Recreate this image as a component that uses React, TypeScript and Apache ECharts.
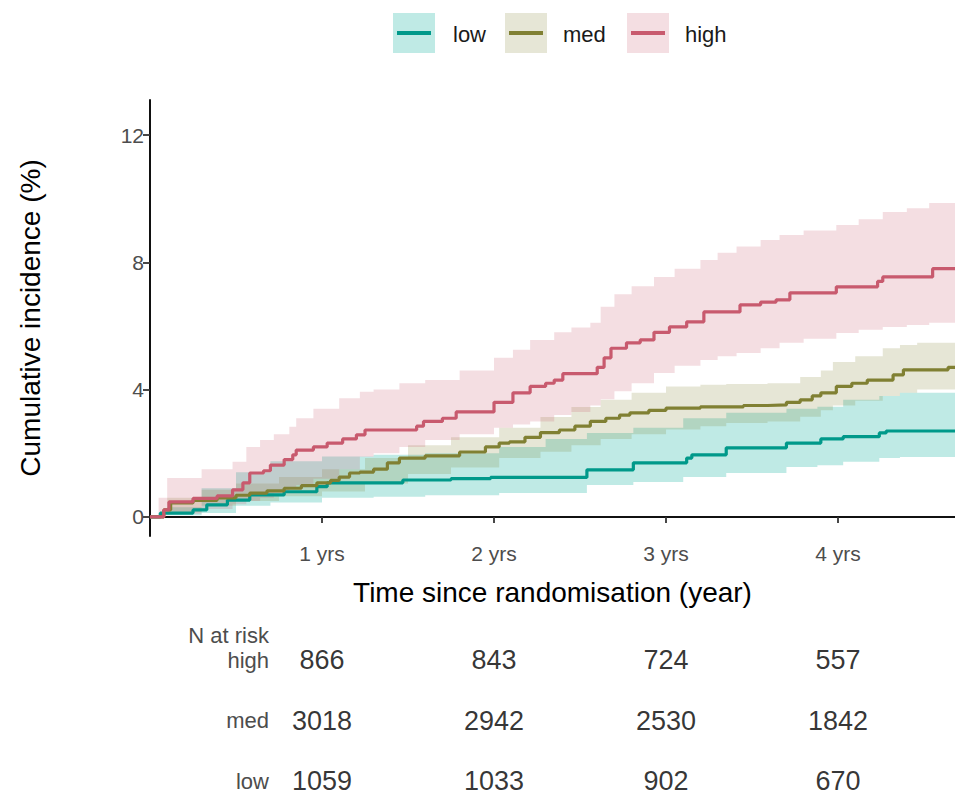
import React, { useEffect, useRef } from "react";
import * as echarts from "echarts";

// ---- data ----
const groups = ["low", "med", "high"];

// step estimate lines: [time (years), cumulative incidence (%)]
const lowLine: number[][] = [
  [0, 0], [0.06, 0.12], [0.25, 0.22], [0.33, 0.38], [0.45, 0.53], [0.58, 0.69],
  [0.78, 0.79], [0.97, 0.95], [1.03, 1.07], [1.47, 1.16], [1.75, 1.2], [1.98, 1.24],
  [2.54, 1.48], [2.81, 1.7], [3.12, 1.85], [3.15, 1.95], [3.35, 2.17], [3.7, 2.32],
  [3.9, 2.45], [4.03, 2.52], [4.24, 2.64], [4.28, 2.7], [4.68, 2.7],
];
const medLine: number[][] = [
  [0, 0], [0.08, 0.22], [0.12, 0.44], [0.25, 0.52], [0.39, 0.6], [0.5, 0.68],
  [0.58, 0.75], [0.68, 0.82], [0.78, 0.9], [0.88, 0.98], [0.97, 1.07], [1.05, 1.15],
  [1.1, 1.25], [1.16, 1.38], [1.22, 1.41], [1.3, 1.5], [1.38, 1.7], [1.45, 1.85],
  [1.6, 1.92], [1.8, 2.04], [1.95, 2.2], [2.03, 2.32], [2.09, 2.36], [2.18, 2.5],
  [2.27, 2.65], [2.38, 2.73], [2.47, 2.85], [2.56, 3.0], [2.65, 3.1], [2.73, 3.2],
  [2.79, 3.27], [2.9, 3.35], [3.0, 3.42], [3.2, 3.46], [3.45, 3.5], [3.59, 3.52],
  [3.7, 3.6], [3.78, 3.68], [3.85, 3.8], [3.9, 3.9], [3.99, 4.1], [4.08, 4.2],
  [4.17, 4.3], [4.32, 4.46], [4.38, 4.62], [4.64, 4.7], [4.68, 4.7],
];
const highLine: number[][] = [
  [0, 0], [0.08, 0.22], [0.11, 0.47], [0.25, 0.58], [0.39, 0.66], [0.48, 0.85],
  [0.54, 1.07], [0.58, 1.38], [0.66, 1.45], [0.7, 1.63], [0.78, 1.8], [0.83, 1.95],
  [0.85, 2.1], [0.95, 2.2], [1.03, 2.32], [1.12, 2.45], [1.2, 2.58], [1.25, 2.73],
  [1.55, 2.85], [1.59, 3.0], [1.7, 3.1], [1.78, 3.3], [2.0, 3.6], [2.11, 3.9],
  [2.21, 4.1], [2.3, 4.2], [2.35, 4.3], [2.4, 4.5], [2.6, 4.7], [2.64, 5.0],
  [2.68, 5.3], [2.77, 5.47], [2.85, 5.56], [2.93, 5.8], [3.02, 5.97], [3.12, 6.13],
  [3.22, 6.44], [3.43, 6.66], [3.55, 6.75], [3.64, 6.82], [3.72, 7.04], [3.99, 7.23],
  [4.23, 7.4], [4.26, 7.54], [4.55, 7.8], [4.68, 7.8],
];

// confidence bands: [time, lower, upper]
const lowBand: number[][] = [
  [0, 0, 0], [0.1, 0.05, 0.3], [0.3, 0.12, 0.9], [0.5, 0.35, 1.4], [0.7, 0.45, 1.75],
  [1.0, 0.6, 1.9], [1.3, 0.63, 1.95], [1.6, 0.68, 2.0], [2.03, 0.75, 2.2],
  [2.3, 0.75, 2.45], [2.54, 1.0, 2.64], [2.81, 1.1, 2.8], [3.1, 1.25, 3.1],
  [3.35, 1.38, 3.27], [3.7, 1.57, 3.4], [3.88, 1.62, 3.46], [4.03, 1.73, 3.68],
  [4.24, 1.85, 3.8], [4.36, 1.88, 3.9], [4.68, 1.9, 3.9],
];
const medBand: number[][] = [
  [0, 0, 0], [0.1, 0.15, 0.6], [0.3, 0.35, 0.85], [0.5, 0.5, 1.05], [0.75, 0.65, 1.25],
  [1.0, 0.8, 1.5], [1.25, 1.05, 1.85], [1.5, 1.35, 2.25], [1.75, 1.55, 2.5],
  [2.03, 1.85, 2.8], [2.27, 2.05, 3.14], [2.45, 2.25, 3.45], [2.62, 2.45, 3.68],
  [2.8, 2.6, 3.9], [3.0, 2.75, 4.1], [3.2, 2.85, 4.15], [3.35, 2.95, 4.18],
  [3.59, 3.0, 4.2], [3.78, 3.15, 4.4], [3.9, 3.35, 4.6], [3.97, 3.5, 4.87],
  [4.1, 3.65, 5.05], [4.26, 3.8, 5.3], [4.36, 3.9, 5.4], [4.46, 4.0, 5.47],
  [4.68, 4.05, 5.56],
];
const highBand: number[][] = [
  [0, 0, 0], [0.05, 0.05, 0.6], [0.1, 0.1, 1.22], [0.3, 0.25, 1.5], [0.48, 0.4, 1.73],
  [0.56, 0.5, 2.2], [0.64, 0.6, 2.42], [0.72, 0.75, 2.6], [0.81, 0.9, 2.83],
  [0.85, 1.0, 3.1], [0.95, 1.2, 3.4], [1.1, 1.5, 3.73], [1.22, 1.89, 3.93],
  [1.3, 2.0, 4.0], [1.45, 2.2, 4.2], [1.6, 2.42, 4.3], [1.8, 2.6, 4.6], [2.0, 2.8, 5.0],
  [2.11, 2.9, 5.25], [2.21, 3.0, 5.56], [2.35, 3.2, 5.8], [2.45, 3.3, 5.95],
  [2.56, 3.5, 6.1], [2.62, 3.7, 6.6], [2.7, 3.95, 7.0], [2.8, 4.2, 7.25],
  [2.93, 4.52, 7.54], [3.05, 4.75, 7.8], [3.2, 4.93, 8.07], [3.3, 5.05, 8.3],
  [3.41, 5.15, 8.5], [3.55, 5.3, 8.7], [3.66, 5.47, 8.86], [3.8, 5.6, 9.0],
  [3.99, 5.78, 9.17], [4.12, 5.88, 9.35], [4.26, 5.97, 9.58], [4.4, 6.03, 9.7],
  [4.53, 6.1, 9.86], [4.68, 6.1, 9.86],
];

// ticks
const yTicks = [0, 4, 8, 12];
const xTicks = [1, 2, 3, 4];

// numbers at risk at 1..4 years
const riskTimes = [1, 2, 3, 4];
const riskHigh = [866, 843, 724, 557];
const riskMed = [3018, 2942, 2530, 1842];
const riskLow = [1059, 1033, 902, 670];

// ---- styles ----
const lineColors: Record<string, string> = {
  low: "#00998A",
  med: "#808033",
  high: "#C85A6E",
};
const bandColors: Record<string, string> = {
  low: "rgba(0,170,150,0.25)",
  med: "rgba(128,128,48,0.2)",
  high: "rgba(200,90,110,0.2)",
};
const FONT = "Liberation Sans, Arial, Helvetica, sans-serif";

function bandSeries(name: string, band: number[][]) {
  return {
    type: "custom",
    name: name + " band",
    xAxisIndex: 0,
    yAxisIndex: 0,
    clip: true,
    z: 1,
    data: band,
    encode: { x: 0, y: [1, 2] },
    renderItem: (params: any, api: any) => {
      if (params.dataIndex !== 0) return null;
      const pts: number[][] = [];
      for (let i = 0; i < band.length; i++) {
        pts.push(api.coord([band[i][0], band[i][2]]));
        if (i < band.length - 1) pts.push(api.coord([band[i + 1][0], band[i][2]]));
      }
      for (let i = band.length - 1; i >= 0; i--) {
        if (i < band.length - 1) pts.push(api.coord([band[i + 1][0], band[i][1]]));
        pts.push(api.coord([band[i][0], band[i][1]]));
      }
      return {
        type: "polygon",
        shape: { points: pts },
        style: { fill: bandColors[name], stroke: "none" },
      };
    },
  };
}

function lineSeries(name: string, data: number[][]) {
  return {
    type: "line",
    name,
    xAxisIndex: 0,
    yAxisIndex: 0,
    step: "end",
    showSymbol: false,
    symbol: "none",
    z: 3,
    data,
    lineStyle: { color: lineColors[name], width: 3.2 },
    itemStyle: { color: lineColors[name] },
  };
}

function riskSeries(group: string, values: number[]) {
  return {
    type: "scatter",
    xAxisIndex: 1,
    yAxisIndex: 1,
    symbolSize: 1,
    itemStyle: { color: "rgba(0,0,0,0)" },
    data: riskTimes.map((t, i) => [t, group, values[i]]),
    label: {
      show: true,
      position: "inside",
      formatter: (p: any) => String(p.value[2]),
      fontSize: 27,
      color: "#000",
      fontFamily: FONT,
    },
  };
}

function legendGraphics() {
  const items = [
    { g: "low", box: 393, text: 453 },
    { g: "med", box: 505, text: 563 },
    { g: "high", box: 627, text: 685 },
  ];
  const out: any[] = [];
  items.forEach((it) => {
    out.push({
      type: "rect",
      shape: { x: it.box, y: 13, width: 42, height: 40 },
      style: { fill: bandColors[it.g] },
    });
    out.push({
      type: "line",
      shape: { x1: it.box + 4, y1: 33, x2: it.box + 38, y2: 33 },
      style: { stroke: lineColors[it.g], lineWidth: 4 },
    });
    out.push({
      type: "text",
      x: it.text,
      y: 34,
      style: {
        text: it.g,
        fontSize: 22,
        fontFamily: FONT,
        fill: "#1a1a1a",
        verticalAlign: "middle",
      },
    });
  });
  out.push({
    type: "text",
    x: 269,
    y: 635,
    style: {
      text: "N at risk",
      fontSize: 22,
      fontFamily: FONT,
      fill: "#4D4D4D",
      align: "right",
      verticalAlign: "middle",
    },
  });
  return out;
}

export default function App() {
  const ref = useRef<HTMLDivElement>(null);

  useEffect(() => {
    if (!ref.current) return;
    const chart = echarts.init(ref.current, undefined, { renderer: "svg" });
    const option: any = {
      animation: false,
      backgroundColor: "#fff",
      textStyle: { fontFamily: FONT },
      grid: [
        { left: 150, right: 0, top: 100, bottom: 260, containLabel: false },
        { left: 150, right: 0, top: 660, height: 121, containLabel: false },
      ],
      xAxis: [
        {
          type: "value",
          gridIndex: 0,
          min: 0,
          max: 4.68,
          splitLine: { show: false },
          axisLine: { show: true, lineStyle: { color: "#111", width: 2 } },
          axisTick: {
            show: true,
            length: 6,
            customValues: xTicks,
            lineStyle: { color: "#333", width: 1.8 },
          },
          axisLabel: {
            customValues: xTicks,
            formatter: (v: number) => `${v} yrs`,
            fontSize: 21,
            color: "#4D4D4D",
            margin: 7,
            fontFamily: FONT,
          },
          name: "Time since randomisation (year)",
          nameLocation: "middle",
          nameGap: 42,
          nameTextStyle: { fontSize: 28, color: "#000", fontFamily: FONT },
        },
        {
          type: "value",
          gridIndex: 1,
          min: 0,
          max: 4.68,
          show: false,
        },
      ],
      yAxis: [
        {
          type: "value",
          gridIndex: 0,
          min: -0.6,
          max: 13.1,
          splitLine: { show: false },
          axisLine: { show: true, lineStyle: { color: "#111", width: 2 } },
          axisTick: {
            show: true,
            length: 7,
            customValues: yTicks,
            lineStyle: { color: "#333", width: 1.8 },
          },
          axisLabel: {
            customValues: yTicks,
            fontSize: 21,
            color: "#4D4D4D",
            margin: 6,
            fontFamily: FONT,
          },
          name: "Cumulative incidence (%)",
          nameLocation: "middle",
          nameRotate: 90,
          nameGap: 106,
          nameTextStyle: { fontSize: 28, color: "#000", fontFamily: FONT },
        },
        {
          type: "category",
          gridIndex: 1,
          data: groups,
          boundaryGap: false,
          offset: -121,
          axisLine: { show: false },
          axisTick: { show: false },
          splitLine: { show: false },
          axisLabel: {
            fontSize: 22,
            color: "#4D4D4D",
            margin: 2,
            fontFamily: FONT,
          },
        },
      ],
      series: [
        bandSeries("low", lowBand),
        bandSeries("med", medBand),
        bandSeries("high", highBand),
        lineSeries("low", lowLine),
        lineSeries("med", medLine),
        lineSeries("high", highLine),
        riskSeries("high", riskHigh),
        riskSeries("med", riskMed),
        riskSeries("low", riskLow),
      ],
      graphic: legendGraphics(),
    };
    chart.setOption(option);
    return () => chart.dispose();
  }, []);

  return (
    <div
      ref={ref}
      style={{ position: "fixed", left: 0, top: 0, width: 955, height: 796 }}
    />
  );
}
